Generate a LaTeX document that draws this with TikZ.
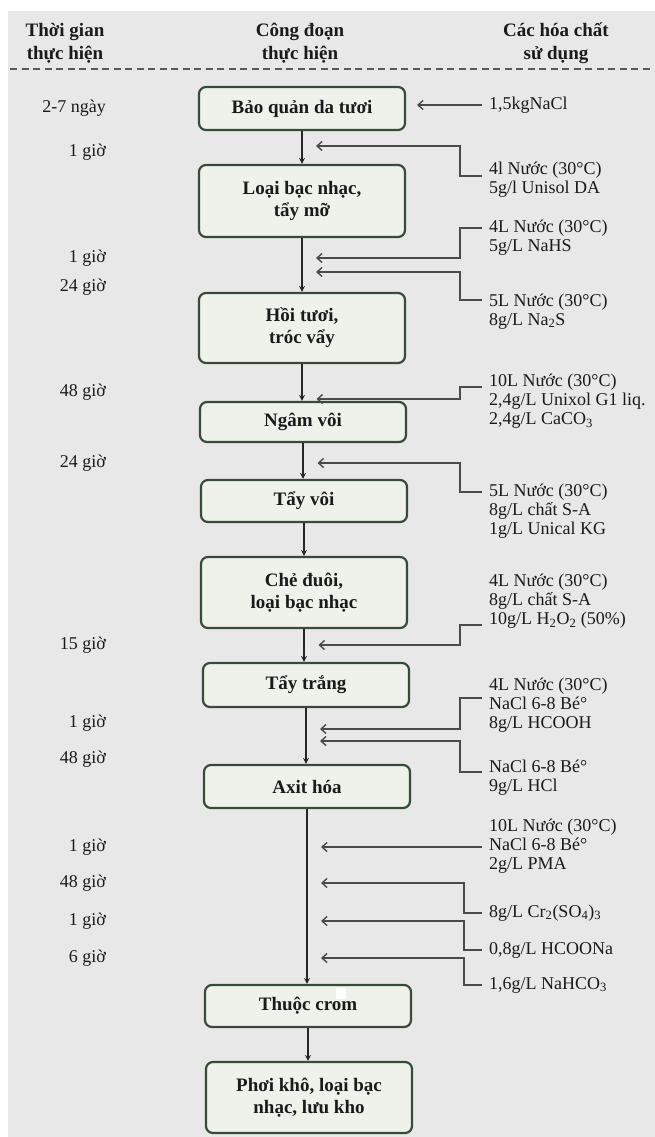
\documentclass[tikz,border=0pt]{standalone}
\usepackage{fontspec}
\setmainfont{Liberation Serif}
\usetikzlibrary{arrows.meta,calc}
\definecolor{bg}{HTML}{E8E8E8}
\definecolor{boxfill}{HTML}{EEF2EB}
\definecolor{boxline}{HTML}{3A4A3A}
\definecolor{feedline}{HTML}{4A4A4A}
\definecolor{txt}{HTML}{1A1A1A}
\begin{document}
\begin{tikzpicture}[x=1pt,y=-1pt,
  stage/.style={draw=boxline, fill=boxfill, line width=2.2pt, rounded corners=7pt,
    minimum width=206pt, align=center, text=txt,
    font=\fontsize{19}{22}\selectfont\bfseries, inner sep=0pt},
  chem/.style={anchor=west, align=left, inner xsep=7pt, inner ysep=0pt, text=txt,
    font=\fontsize{18}{19}\selectfont},
  tlabel/.style={anchor=east, inner sep=0pt, text=txt, font=\fontsize{18}{19}\selectfont},
  head/.style={align=center, text=txt, font=\fontsize{19}{23}\selectfont\bfseries},
  flow/.style={line width=1.8pt, draw=black!85, -{Stealth[length=6pt,width=6pt]}},
  feed/.style={line width=1.4pt, draw=feedline, -{Straight Barb[length=5pt,width=9pt]}},
  sepline/.style={line width=1.5pt, draw=black!65, dash pattern=on 7pt off 4.5pt}
]
\useasboundingbox (0,0) rectangle (655,1137);
\fill[white] (0,0) rectangle (655,1137);
\fill[bg] (8,11) rectangle (655,1137);

% headers
\node[head] (h1) at (65,43.5) {Thời gian\\thực hiện};
\node[head] (h2) at (300,43.5) {Công đoạn\\thực hiện};
\node[head] (h3) at (556,43.5) {Các hóa chất\\sử dụng};
\draw[sepline] (10,69) -- (650,69);

% stages
\node[stage, minimum height=43pt] (b1) at (302,108.5) {Bảo quản da tươi};
\node[stage, minimum height=72pt] (b2) at (302,201) {Loại bạc nhạc,\\tẩy mỡ};
\node[stage, minimum height=70pt] (b3) at (302,328) {Hồi tươi,\\tróc vẩy};
\node[stage, minimum height=40pt] (b4) at (303,422) {Ngâm vôi};
\node[stage, minimum height=42pt] (b5) at (304,501) {Tẩy vôi};
\node[stage, minimum height=71pt] (b6) at (304,592.5) {Chẻ đuôi,\\loại bạc nhạc};
\node[stage, minimum height=44pt] (b7) at (306,685) {Tẩy trắng};
\node[stage, minimum height=43pt] (b8) at (307,786.5) {Axit hóa};
\node[stage, minimum height=42pt] (b9) at (308,1006) {Thuộc crom};
\node[stage, minimum height=71pt] (b10) at (309,1097.5) {Phơi khô, loại bạc\\nhạc, lưu kho};
\fill[white] (336,988) rectangle (346,999);

% main flow
\draw[flow] (b1.south) -- (b1.south |- b2.north);
\draw[flow] (b2.south) -- (b2.south |- b3.north);
\draw[flow] (b3.south) -- (b3.south |- b4.north);
\draw[flow] (b4.south) -- (b4.south |- b5.north);
\draw[flow] (b5.south) -- (b5.south |- b6.north);
\draw[flow] (b6.south) -- (b6.south |- b7.north);
\draw[flow] (b7.south) -- (b7.south |- b8.north);
\draw[flow] (b8.south) -- (b8.south |- b9.north);
\draw[flow] (b9.south) -- (b9.south |- b10.north);

% time labels
\node[tlabel] (d1) at (106,108) {2-7 ngày};
\node[tlabel] (d2) at (106,152) {1 giờ};
\node[tlabel] (d3) at (106,258) {1 giờ};
\node[tlabel] (d4) at (106,287) {24 giờ};
\node[tlabel] (d5) at (106,392) {48 giờ};
\node[tlabel] (d6) at (106,463) {24 giờ};
\node[tlabel] (d7) at (106,645) {15 giờ};
\node[tlabel] (d8) at (106,723) {1 giờ};
\node[tlabel] (d9) at (106,759) {48 giờ};
\node[tlabel] (d10) at (106,847) {1 giờ};
\node[tlabel] (d11) at (106,883) {48 giờ};
\node[tlabel] (d12) at (106,921) {1 giờ};
\node[tlabel] (d13) at (106,958) {6 giờ};

% chemicals
\node[chem] (c1) at (482,105) {1,5kgNaCl};
\node[chem] (c2) at (482,179.5) {4l Nước (30°C)\\5g/l Unisol DA};
\node[chem] (c3) at (482,238) {4L Nước (30°C)\\5g/L NaHS};
\node[chem] (c4) at (482,311.5) {5L Nước (30°C)\\8g/L Na\textsubscript{2}S};
\node[chem] (c5) at (482,401.5) {10L Nước (30°C)\\2,4g/L Unixol G1 liq.\\2,4g/L CaCO\textsubscript{3}};
\node[chem] (c6) at (482,511.5) {5L Nước (30°C)\\8g/L chất S-A\\1g/L Unical KG};
\node[chem] (c7) at (482,601.5) {4L Nước (30°C)\\8g/L chất S-A\\10g/L H\textsubscript{2}O\textsubscript{2} (50\%)};
\node[chem] (c8) at (482,705) {4L Nước (30°C)\\NaCl 6-8 Bé°\\8g/L HCOOH};
\node[chem] (c9) at (482,778) {NaCl 6-8 Bé°\\9g/L HCl};
\node[chem] (c10) at (482,846.5) {10L Nước (30°C)\\NaCl 6-8 Bé°\\2g/L PMA};
\node[chem] (c11) at (482,913) {8g/L Cr\textsubscript{2}(SO\textsubscript{4})\textsubscript{3}};
\node[chem] (c12) at (482,950) {0,8g/L HCOONa};
\node[chem] (c13) at (482,985) {1,6g/L NaHCO\textsubscript{3}};

% feed arrow tips
\coordinate (t1) at (417,105);
\coordinate (t2) at (316,146);
\coordinate (t3) at (316,258);
\coordinate (t4) at (316,272);
\coordinate (t5) at (316.5,399);
\coordinate (t6) at (317.5,463);
\coordinate (t7) at (318.5,645);
\coordinate (t8) at (320,729);
\coordinate (t9) at (320,741);
\coordinate (t10) at (321,847);
\coordinate (t11) at (321,883);
\coordinate (t12) at (321,921);
\coordinate (t13) at (321,958);

% feeds
\draw[feed] (c1.west) -- (t1);
\draw[feed] (c2.west |- 0,176) -- ++(-22,0) |- (t2);
\draw[feed] (c3.west |- 0,228) -- ++(-22,0) |- (t3);
\draw[feed] (c4.west |- 0,300) -- ++(-22,0) |- (t4);
\draw[feed] (c5.west |- 0,387) -- ++(-22,0) |- (t5);
\draw[feed] (c6.west |- 0,492) -- ++(-22,0) |- (t6);
\draw[feed] (c7.west |- 0,625) -- ++(-22,0) |- (t7);
\draw[feed] (c8.west |- 0,698) -- ++(-22,0) |- (t8);
\draw[feed] (c9.west |- 0,772) -- ++(-22,0) |- (t9);
\draw[feed] (c10.west |- t10) -- (t10);
\draw[feed] (c11.west |- 0,913) -- ++(-18,0) |- (t11);
\draw[feed] (c12.west |- 0,950) -- ++(-18,0) |- (t12);
\draw[feed] (c13.west |- 0,985) -- ++(-18,0) |- (t13);
\end{tikzpicture}
\end{document}
